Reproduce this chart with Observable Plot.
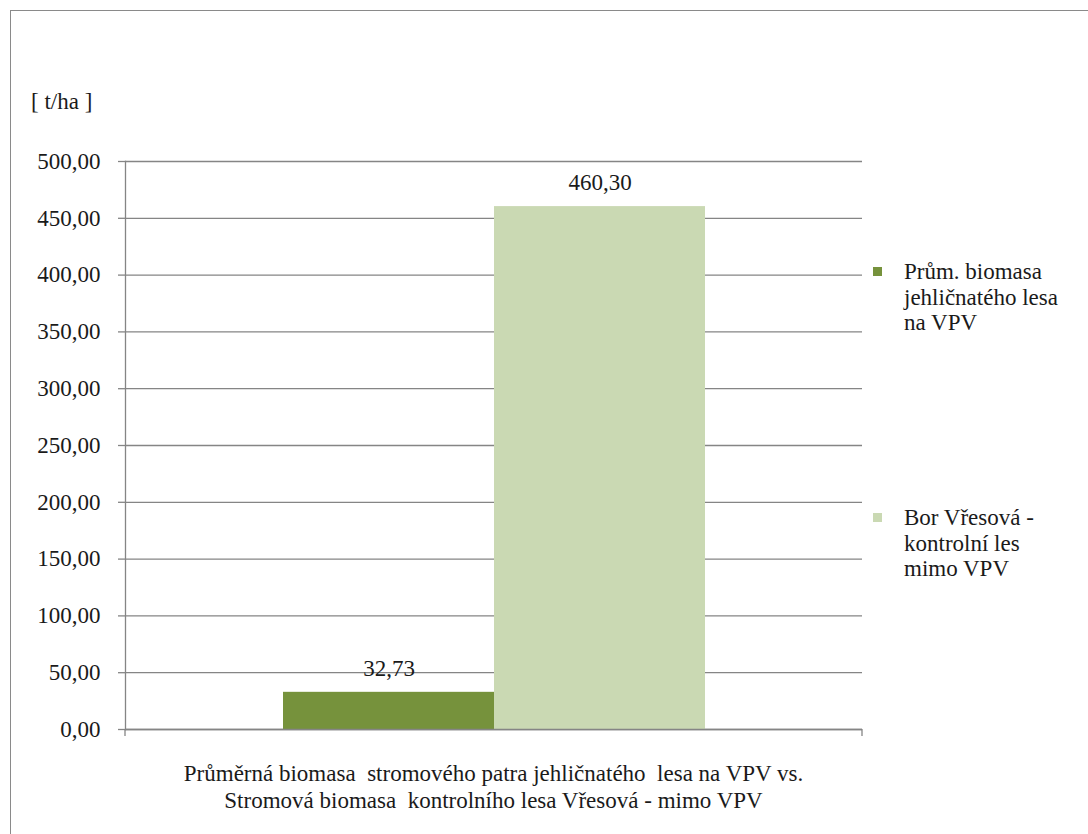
<!DOCTYPE html>
<html>
<head>
<meta charset="utf-8">
<script src="https://cdn.jsdelivr.net/npm/d3@7"></script>
<script src="https://cdn.jsdelivr.net/npm/@observablehq/plot@0.6"></script>
<style>
  html, body { margin: 0; padding: 0; background: #fff; overflow: hidden; }
  body { width: 1088px; height: 834px; position: relative; font-family: "Liberation Serif", "DejaVu Serif", "Tinos", "Times New Roman", serif; color: #1a1a1a; }
  #frame { position: absolute; left: 10px; top: 10px; width: 1100px; height: 900px; border: 1.5px solid #8a8a8a; box-sizing: border-box; }
  #chart { position: absolute; left: 0; top: 0; }
  #unit { position: absolute; left: 31px; top: 89px; font-size: 23px; }
  .legend { position: absolute; left: 873px; font-size: 23px; line-height: 25.5px; }
  .legend .sw { position: absolute; left: 0; top: 8px; width: 9px; height: 9px; }
  .legend .tx { position: absolute; left: 31px; top: 0; white-space: nowrap; }
  #cat { position: absolute; left: 125px; width: 737px; top: 760px; text-align: center; font-size: 23px; line-height: 27px; white-space: nowrap; }
</style>
</head>
<body>
<div id="frame"></div>
<div id="chart"></div>
<div id="unit"></div>
<div id="legend"></div>
<div id="cat"></div>
<script>
// ---- data ----
const category = "Průměrná biomasa  stromového patra jehličnatého  lesa na VPV vs.\nStromová biomasa  kontrolního lesa Vřesová - mimo VPV";
const seriesNames = ["Prům. biomasa\njehličnatého lesa\nna VPV", "Bor Vřesová -\nkontrolní les\nmimo VPV"];
const seriesValues = [32.73, 460.30];
const seriesColors = ["#76923c", "#cad9b3"];
const yTicks = [0, 50, 100, 150, 200, 250, 300, 350, 400, 450, 500];
const unitLabel = "[ t/ha ]";

const data = seriesNames.map((s, i) => ({series: s, value: seriesValues[i]}));
const fmt = v => v.toFixed(2).replace(".", ",");
const serif = "'Liberation Serif', 'DejaVu Serif', Tinos, 'Times New Roman', serif";

const chart = Plot.plot({
  width: 1088,
  height: 834,
  marginLeft: 125,
  marginRight: 226,
  marginTop: 161,
  marginBottom: 105,
  style: {fontFamily: serif, fontSize: "23px", color: "#1a1a1a", background: "transparent"},
  x: {domain: seriesNames, paddingInner: 0, paddingOuter: 0.742, axis: null},
  y: {domain: [0, 500], axis: null},
  color: {domain: seriesNames, range: seriesColors},
  marks: [
    Plot.gridY(yTicks, {stroke: "#858585", strokeOpacity: 1, strokeWidth: 1.3}),
    Plot.axisY(yTicks, {tickSize: 7, tickPadding: 18, tickFormat: fmt, stroke: "#858585", strokeWidth: 1.3, fontSize: "23px", fontFamily: serif, label: null}),
    Plot.frame({anchor: "left", stroke: "#858585", strokeWidth: 1.3}),
    Plot.barY(data, {x: "series", y: "value", fill: "series"}),
    Plot.ruleY([0], {stroke: "#858585", strokeWidth: 1.3}),
    Plot.text(data, {x: "series", y: "value", text: d => fmt(d.value), dy: -24, fontSize: "23px", fontFamily: serif, fill: "#1a1a1a"})
  ]
});
document.getElementById("chart").appendChild(chart);

// small end ticks on the category axis, computed from the scales
const y0 = chart.scale("y").apply(0);
const svg = d3.select(chart);
[125, 1088 - 226].forEach(px => {
  svg.append("line").attr("x1", px).attr("x2", px).attr("y1", y0).attr("y2", y0 + 7)
    .attr("stroke", "#858585").attr("stroke-width", 1.3);
});

document.getElementById("unit").textContent = unitLabel;
document.getElementById("cat").innerHTML = category.split("\n").map(l => l.replace(/ {2}/g, "&nbsp; ")).join("<br>");

const legendTops = [259, 505];
const legend = document.getElementById("legend");
seriesNames.forEach((s, i) => {
  const item = document.createElement("div");
  item.className = "legend";
  item.style.top = legendTops[i] + "px";
  const sw = document.createElement("div");
  sw.className = "sw";
  sw.style.background = seriesColors[i];
  const tx = document.createElement("div");
  tx.className = "tx";
  tx.innerHTML = s.split("\n").join("<br>");
  item.appendChild(sw);
  item.appendChild(tx);
  legend.appendChild(item);
});
</script>
</body>
</html>
